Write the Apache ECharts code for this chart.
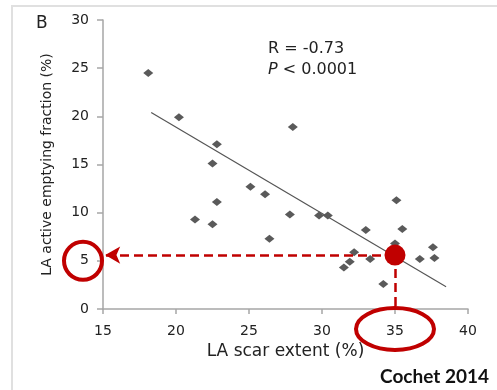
<!DOCTYPE html>
<html>
<head>
<meta charset="utf-8">
<script src="https://cdn.jsdelivr.net/npm/echarts@6/dist/echarts.min.js"></script>
<style>
  html, body { margin: 0; padding: 0; background: #fff; }
  #chart { width: 497px; height: 390px; }
</style>
</head>
<body>
<div id="chart"></div>
<script>
// scar extent (%) vs active emptying fraction (%)
var scarExtent = [18.1, 20.2, 28.0, 22.8, 22.5, 25.1, 26.1, 22.8, 21.3, 22.5, 27.8, 29.8, 30.4, 26.4,
                  35.1, 35.5, 33.0, 35.0, 32.2, 33.3, 31.9, 31.5, 34.2, 36.7, 37.6, 37.7];
var emptyingFraction = [24.5, 19.9, 18.9, 17.1, 15.1, 12.7, 11.9, 11.1, 9.3, 8.8, 9.8, 9.7, 9.7, 7.3,
                        11.3, 8.3, 8.2, 6.8, 5.9, 5.2, 4.9, 4.3, 2.6, 5.2, 6.4, 5.3];
// regression line end points
var fitX = [18.3, 38.5];
var fitY = [20.4, 2.3];
// highlighted reading
var highlightX = 35;
var highlightY = 5.6;
var xTicks = [15, 20, 25, 30, 35, 40];
var yTicks = [0, 5, 10, 15, 20, 25, 30];

var red = '#c00000';
var font = 'DejaVu Sans';

var points = scarExtent.map(function (x, i) { return [x, emptyingFraction[i]]; });
var fitLine = fitX.map(function (x, i) { return [x, fitY[i]]; });

var myChart = echarts.init(document.getElementById('chart'));

var option = {
    animation: false,
    backgroundColor: '#fff',
    grid: { left: 103, right: 29, top: 20, bottom: 81 },
    xAxis: {
        type: 'value',
        min: xTicks[0], max: xTicks[xTicks.length - 1], interval: 5,
        name: 'LA scar extent (%)',
        nameLocation: 'middle', nameGap: 33,
        nameTextStyle: { fontFamily: font, fontSize: 17, color: '#222' },
        axisLine: { lineStyle: { color: '#a6a6a6', width: 1.5 } },
        axisTick: { show: true, length: 5, lineStyle: { color: '#a6a6a6', width: 1.5 } },
        axisLabel: { fontFamily: font, fontSize: 14, color: '#222', margin: 15 },
        splitLine: { show: false }
    },
    yAxis: {
        type: 'value',
        min: yTicks[0], max: yTicks[yTicks.length - 1], interval: 5,
        name: 'LA active emptying fraction (%)',
        nameLocation: 'middle', nameGap: 49,
        nameTextStyle: { fontFamily: font, fontSize: 14, color: '#222' },
        axisLine: { show: true, lineStyle: { color: '#a6a6a6', width: 1.5 } },
        axisTick: { show: true, length: 6, lineStyle: { color: '#a6a6a6', width: 1.5 } },
        axisLabel: { fontFamily: font, fontSize: 14, color: '#222', margin: 14 },
        splitLine: { show: false }
    },
    series: [
        {
            type: 'line',
            data: fitLine,
            symbol: 'none',
            lineStyle: { color: '#555', width: 1.2 },
            z: 2
        },
        {
            type: 'scatter',
            data: points,
            symbol: 'diamond',
            symbolSize: [10, 8],
            itemStyle: { color: '#5a5a5a', opacity: 1 },
            z: 3
        },
        {
            type: 'scatter',
            data: [[highlightX, highlightY]],
            symbol: 'circle',
            symbolSize: 21,
            itemStyle: { color: red, opacity: 1 },
            z: 6,
            markLine: {
                silent: true,
                animation: false,
                label: { show: false },
                lineStyle: { color: red, type: [9, 5], width: 2.5, opacity: 1 },
                data: [
                    [{ coord: [highlightX, highlightY], symbol: 'none' },
                     { coord: [xTicks[0] + 0.15, highlightY], symbol: 'arrow', symbolSize: [13, 15] }],
                    [{ coord: [highlightX, highlightY], symbol: 'none' },
                     { coord: [highlightX, 0.2], symbol: 'none' }]
                ]
            }
        }
    ]
};

myChart.setOption(option);

// annotations placed from the axes' own scales
var p5 = myChart.convertToPixel({ gridIndex: 0 }, [xTicks[0], 5]);
var p35 = myChart.convertToPixel({ gridIndex: 0 }, [35, 0]);

myChart.setOption({
    graphic: [
        {
            type: 'rect', silent: true, z: -1,
            shape: { x: 12, y: 6, width: 600, height: 500 },
            style: { fill: null, stroke: '#e0e0e0', lineWidth: 2 }
        },
        {
            type: 'text', left: 36, top: 15,
            style: { text: 'B', fontFamily: font, fontSize: 17, fill: '#222' }
        },
        {
            type: 'text', left: 268, top: 41,
            style: { text: 'R = -0.73', fontFamily: font, fontSize: 16, fill: '#222' }
        },
        {
            type: 'text', left: 268, top: 62,
            style: {
                rich: { i: { fontStyle: 'italic', fontFamily: font, fontSize: 16, fill: '#222' },
                        n: { fontFamily: font, fontSize: 16, fill: '#222' } },
                text: '{i|P}{n| < 0.0001}'
            }
        },
        {
            type: 'circle', silent: true, z: 10,
            shape: { cx: p5[0] - 20, cy: p5[1], r: 19 },
            style: { fill: null, stroke: red, lineWidth: 4 }
        },
        {
            type: 'ellipse', silent: true, z: 10,
            shape: { cx: p35[0], cy: p35[1] + 20, rx: 39, ry: 21 },
            style: { fill: null, stroke: red, lineWidth: 4 }
        },
        {
            type: 'text', right: 8, top: 367,
            style: { text: 'Cochet 2014', fontFamily: 'Lato', fontWeight: 'bold', fontSize: 19, fill: '#111' }
        }
    ]
});
</script>
</body>
</html>
